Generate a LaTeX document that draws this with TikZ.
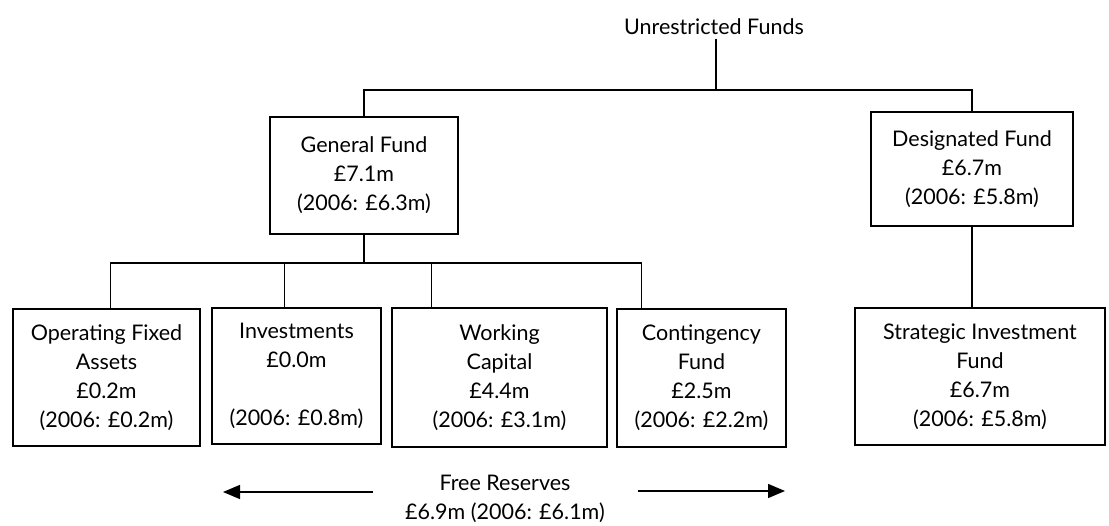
\documentclass[tikz,border=0pt]{standalone}
\usepackage{fontspec}
\setmainfont{Lato}
\usetikzlibrary{arrows.meta,positioning,calc}

\begin{document}
\begin{tikzpicture}[
    x=1pt, y=-1pt,
    font=\fontsize{21.5}{29}\selectfont,
    % box style
    fundbox/.style={
        draw=black,
        line width=1.6pt,
        fill=white,
        align=center,
        inner sep=2pt
    },
    % connector style
    link/.style={line width=1.5pt},
    % reserve arrow style
    reserve/.style={
        line width=1.5pt,
        -{Triangle[length=17pt,width=14pt]}
    }
]
    \useasboundingbox (0,0) rectangle (1109,526);

    % --- 1. Top ---
    \node (title) at (714,27) {Unrestricted Funds};
    \coordinate (split) at (716,90);

    % --- 2. General / Designated ---
    \node[fundbox, minimum width=188pt, minimum height=117pt] (gen) at (364,175.5)
        {General Fund\\£7.1m\\(2006: £6.3m)};
    \node[fundbox, minimum width=202pt, minimum height=114pt] (des) at (972,169)
        {Designated Fund\\£6.7m\\(2006: £5.8m)};

    \draw[link] (title.south -| split) -- (split);
    \draw[link] (gen.north) |- (split) -| (des.north);

    % --- 3. Bottom row ---
    \node[fundbox, minimum width=187pt, minimum height=137pt] (ofa) at (106.5,377.5)
        {Operating Fixed\\Assets\\£0.2m\\(2006: £0.2m)};
    \node[fundbox, minimum width=169pt, minimum height=136pt] (inv) at (296.5,376)
        {Investments\\£0.0m\\ \\(2006: £0.8m)};
    \node[fundbox, minimum width=215pt, minimum height=139pt] (wc) at (499.5,377.5)
        {Working\\Capital\\£4.4m\\(2006: £3.1m)};
    \node[fundbox, minimum width=169pt, minimum height=138pt] (cf) at (701.5,378)
        {Contingency\\Fund\\£2.5m\\(2006: £2.2m)};
    \node[fundbox, minimum width=250pt, minimum height=137pt] (sif) at (980,376.5)
        {Strategic Investment\\Fund\\£6.7m\\(2006: £5.8m)};

    \coordinate (bus) at (361,263);
    \coordinate (ofaIn) at ($(ofa.north west)!0.52!(ofa.north east)$);
    \coordinate (invIn) at ($(inv.north west)!0.43!(inv.north east)$);
    \coordinate (wcIn) at ($(wc.north west)!0.186!(wc.north east)$);
    \coordinate (cfIn) at ($(cf.north west)!0.148!(cf.north east)$);

    \draw[link] (gen.south) -- (gen.south |- bus);
    \draw[link] (ofaIn) -- (ofaIn |- bus) -- (cfIn |- bus) -- (cfIn);
    \foreach \b in {invIn,wcIn}
        \draw[link] (\b) -- (\b |- bus);
    \draw[link] (des.south) -- (des.south |- sif.north);

    % --- 4. Free reserves ---
    \node[align=center] (free) at (505,499) {Free Reserves\\£6.9m (2006: £6.1m)};
    \coordinate (leftEnd) at (223,492);
    \coordinate (leftStart) at (373,492);
    \coordinate (rightStart) at (638,491);
    \coordinate (rightEnd) at (785,491);
    \draw[reserve] (leftStart) -- (leftEnd);
    \draw[reserve] (rightStart) -- (rightEnd);

\end{tikzpicture}
\end{document}
